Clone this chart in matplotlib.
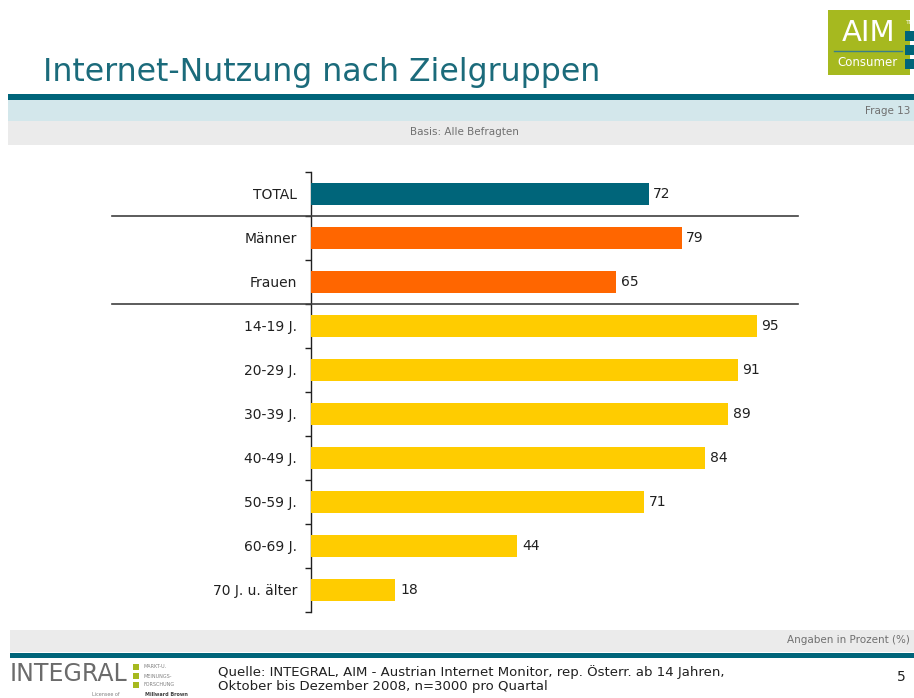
import matplotlib
matplotlib.use("Agg")
import matplotlib.pyplot as plt
from matplotlib.patches import Rectangle

categories = ["TOTAL", "Männer", "Frauen", "14-19 J.", "20-29 J.", "30-39 J.",
              "40-49 J.", "50-59 J.", "60-69 J.", "70 J. u. älter"]
values = [72, 79, 65, 95, 91, 89, 84, 71, 44, 18]
groups = ["total", "sex", "sex", "age", "age", "age", "age", "age", "age", "age"]
group_colors = {"total": "#00657a", "sex": "#ff6600", "age": "#ffcc00"}

title = "Internet-Nutzung nach Zielgruppen"
source = ("Quelle: INTEGRAL, AIM - Austrian Internet Monitor, rep. Österr. ab 14 Jahren,\n"
          "Oktober bis Dezember 2008, n=3000 pro Quartal")

W, H = 914, 698
fig = plt.figure(figsize=(W / 100, H / 100), dpi=100)
fig.patch.set_facecolor("white")

def fx(x):
    return x / W

def fy(y):
    return 1 - y / H

def rect(x0, y0, x1, y1, color, z=1):
    fig.patches.append(Rectangle((fx(x0), fy(y1)), fx(x1 - x0), fy(y0) - fy(y1),
                                 transform=fig.transFigure, facecolor=color,
                                 edgecolor="none", zorder=z))

teal = "#00657a"

# Header
fig.text(fx(43), fy(73), title, fontsize=22.7, color="#1b6b7b", va="center", ha="left",
         family="DejaVu Sans")
rect(8, 94, W, 100, teal)
rect(8, 100, W, 121, "#d3e7eb")
rect(8, 121, W, 145, "#ebebeb")
fig.text(fx(910), fy(111), "Frage 13", fontsize=7.5, color="#707070", ha="right", va="center")
fig.text(fx(464), fy(132), "Basis: Alle Befragten", fontsize=7.5, color="#707070",
         ha="center", va="center")

# AIM logo
rect(828, 10, 910, 75, "#a6b91f", z=2)
fig.text(fx(869), fy(33), "AIM", fontsize=21, color="white", ha="center", va="center",
         zorder=3)
fig.lines.append(plt.Line2D([fx(834), fx(902)], [fy(51), fy(51)], transform=fig.transFigure,
                            color="#3a7f8a", lw=1, zorder=3))
fig.text(fx(868), fy(62), "Consumer", fontsize=8.5, color="white", ha="center", va="center",
         zorder=3)
for yy in (31, 45, 59):
    rect(905, yy, 914, yy + 10, teal, z=3)
fig.text(fx(906), fy(22), "TM", fontsize=4.5, color="white", ha="left", va="center", zorder=3)

# Footer bands
rect(10, 630, W, 652, "#ebebeb")
rect(10, 653, W, 658, teal)
fig.text(fx(910), fy(640), "Angaben in Prozent (%)", fontsize=7.5, color="#707070",
         ha="right", va="center")

# INTEGRAL logo
fig.text(fx(10), fy(674), "INTEGRAL", fontsize=17, color="#6b6b6b", ha="left", va="center",
         family="Liberation Sans Narrow")
for yy in (664, 673, 682):
    rect(133, yy, 139, yy + 6, "#a6b91f", z=2)
for yy, t in zip((667, 676, 685), ("MARKT-U.", "MEINUNGS-", "FORSCHUNG")):
    fig.text(fx(143), fy(yy), t, fontsize=3.5, color="#808080", ha="left", va="center")
fig.text(fx(92), fy(694), "Licensee of", fontsize=3.5, color="#808080", ha="left", va="center")
fig.text(fx(145), fy(694), "Millward Brown", fontsize=3.5, color="#404040", ha="left",
         va="center", weight="bold")

fig.text(fx(218), fy(679), source, fontsize=9.5, color="#202020", ha="left", va="center",
         linespacing=1.15)
fig.text(fx(897), fy(677), "5", fontsize=10, color="#202020", ha="left", va="center")

# Chart axes
ax_left, ax_right = 311, 311 + 4.69 * 104
ax_top, ax_bot = 172, 612
ax = fig.add_axes([fx(ax_left), fy(ax_bot), fx(ax_right - ax_left), fy(ax_top) - fy(ax_bot)])
n = len(categories)
ypos = list(range(n))
colors = [group_colors[g] for g in groups]
ax.barh(ypos, values, height=0.5, color=colors, edgecolor="none", zorder=3)
ax.set_xlim(0, 104)
ax.set_ylim(n - 0.5, -0.5)
for y, v in zip(ypos, values):
    ax.text(v + 1, y, str(v), va="center", ha="left", fontsize=10, color="#202020")
for s in ("top", "right", "bottom"):
    ax.spines[s].set_visible(False)
ax.spines["left"].set_color("#202020")
ax.spines["left"].set_linewidth(1.0)
ax.set_xticks([])
ax.set_yticks([i - 0.5 for i in range(n + 1)])
ax.set_yticklabels([])
ax.tick_params(axis="y", length=4, width=1, color="#202020")
ax.set_yticks(ypos, minor=True)
ax.set_yticklabels(categories, minor=True, fontsize=10, color="#202020")
ax.tick_params(axis="y", which="minor", length=0, pad=10)
ax.patch.set_alpha(0)

# Group separators
for b in (0.5, 2.5):
    yb = ax.transData.transform((0, b))[1]
    yf = yb / (H)
    fig.lines.append(plt.Line2D([fx(112), fx(798)], [yf, yf], transform=fig.transFigure,
                                color="#404040", lw=1.2))

fig.savefig("out.png", dpi=100)
